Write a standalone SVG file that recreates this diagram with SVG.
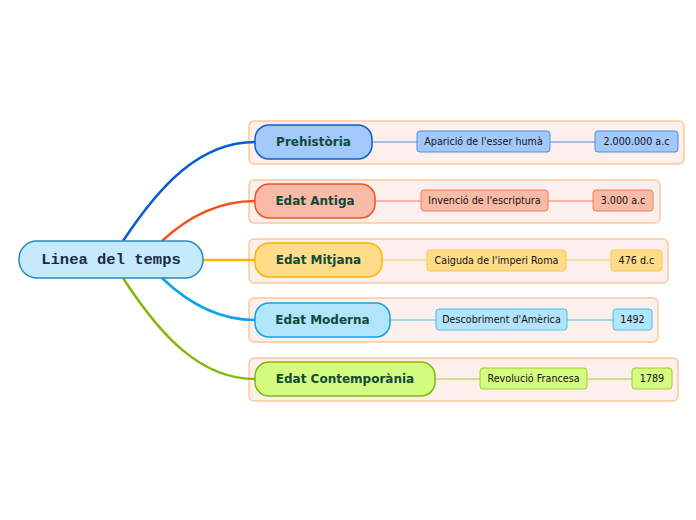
<svg xmlns="http://www.w3.org/2000/svg" width="696" height="520" viewBox="0 0 696 520">
<style>
.bg{fill:#fdf0ec;stroke:#fdc89a;stroke-width:1.5}
.br{font-family:"DejaVu Sans",Verdana,sans-serif;font-weight:bold;font-size:12px;fill:#0e4a3a;text-anchor:middle;dominant-baseline:central}
.lf{font-family:"DejaVu Sans",Verdana,sans-serif;font-size:9.6px;fill:#111;text-anchor:middle;dominant-baseline:central}
.rt{font-family:"Liberation Mono","Courier New",monospace;font-weight:bold;font-size:15.5px;fill:#1a2a4a;text-anchor:middle;dominant-baseline:central}
.c{fill:none;stroke-width:2.5}
.t{fill:none;stroke-width:1}
</style>
<rect width="696" height="520" fill="#fff"/>
<g id="backgrounds">
<rect class="bg" x="249" y="121" width="435" height="43" rx="5"/>
<rect class="bg" x="249" y="180" width="411" height="43" rx="5"/>
<rect class="bg" x="249" y="239" width="419" height="44" rx="5"/>
<rect class="bg" x="249" y="298" width="409" height="44" rx="5"/>
<rect class="bg" x="249" y="358" width="429" height="43" rx="5"/>
</g>
<g id="connectors">
<path class="c" stroke="#0a5fd0" d="M123,241 C160,185 200,142 255,142"/>
<path class="c" stroke="#f25220" d="M162,241 C190,215 220,201 255,201"/>
<path class="c" stroke="#ffb400" d="M203,260 L255,260"/>
<path class="c" stroke="#0aa4ea" d="M162,278 C190,305 220,320 255,320"/>
<path class="c" stroke="#83b80d" d="M123,278 C160,335 200,379 255,379"/>
<path class="t" stroke="#4a8de0" d="M372,142 H417 M550,142 H595"/>
<path class="t" stroke="#f57a55" d="M375,201 H421 M548,201 H593"/>
<path class="t" stroke="#ffc845" d="M382,260 H427 M566,260 H611"/>
<path class="t" stroke="#45bef0" d="M390,320 H436 M567,320 H613"/>
<path class="t" stroke="#9fcc3a" d="M435,379 H480 M587,379 H632"/>
</g>
<g id="root">
<rect x="19" y="241" width="184" height="37" rx="18" fill="#c5ebfb" stroke="#2d86c0" stroke-width="1.5"/>
<text class="rt" x="111" y="260">Linea del temps</text>
</g>
<g id="prehistoria">
<rect x="255" y="125" width="117" height="34" rx="14" fill="#a3c9fb" stroke="#0a5fd0" stroke-width="1.5"/>
<text class="br" x="313.5" y="142">Prehistòria</text>
</g>
<g id="antiga">
<rect x="255" y="184" width="120" height="34" rx="14" fill="#f9bba7" stroke="#f25220" stroke-width="1.5"/>
<text class="br" x="315" y="201">Edat Antiga</text>
</g>
<g id="mitjana">
<rect x="255" y="243" width="127" height="34" rx="14" fill="#ffdc8a" stroke="#ffb400" stroke-width="1.5"/>
<text class="br" x="318.5" y="260">Edat Mitjana</text>
</g>
<g id="moderna">
<rect x="255" y="303" width="135" height="34" rx="14" fill="#b2e4fa" stroke="#0aa4ea" stroke-width="1.5"/>
<text class="br" x="322.5" y="320">Edat Moderna</text>
</g>
<g id="contemporania">
<rect x="255" y="362" width="180" height="34" rx="14" fill="#d5fb7f" stroke="#83b80d" stroke-width="1.5"/>
<text class="br" x="345" y="379">Edat Contemporània</text>
</g>
<g id="leaf1a"><rect x="417" y="131" width="133" height="21" rx="3" fill="#a3c9fb" stroke="#4a8de0"/><text class="lf" x="483.5" y="141.5">Aparició de l'esser humà</text></g>
<g id="leaf1b"><rect x="595" y="131" width="83" height="21" rx="3" fill="#a3c9fb" stroke="#4a8de0"/><text class="lf" x="636.5" y="141.5">2.000.000 a.c</text></g>
<g id="leaf2a"><rect x="421" y="190" width="127" height="21" rx="3" fill="#f9bba7" stroke="#f57a55"/><text class="lf" x="484.5" y="200.5">Invenció de l'escriptura</text></g>
<g id="leaf2b"><rect x="593" y="190" width="60" height="21" rx="3" fill="#f9bba7" stroke="#f57a55"/><text class="lf" x="623" y="200.5">3.000 a.c</text></g>
<g id="leaf3a"><rect x="427" y="250" width="139" height="21" rx="3" fill="#ffdc8a" stroke="#ffc845"/><text class="lf" x="496.5" y="260.5">Caiguda de l'imperi Roma</text></g>
<g id="leaf3b"><rect x="611" y="250" width="51" height="21" rx="3" fill="#ffdc8a" stroke="#ffc845"/><text class="lf" x="636.5" y="260.5">476 d.c</text></g>
<g id="leaf4a"><rect x="436" y="309" width="131" height="21" rx="3" fill="#b2e4fa" stroke="#45bef0"/><text class="lf" x="501.5" y="319.5">Descobriment d'Amèrica</text></g>
<g id="leaf4b"><rect x="613" y="309" width="39" height="21" rx="3" fill="#b2e4fa" stroke="#45bef0"/><text class="lf" x="632.5" y="319.5">1492</text></g>
<g id="leaf5a"><rect x="480" y="368" width="107" height="21" rx="3" fill="#d5fb7f" stroke="#9fcc3a"/><text class="lf" x="533.5" y="378.5">Revolució Francesa</text></g>
<g id="leaf5b"><rect x="632" y="368" width="40" height="21" rx="3" fill="#d5fb7f" stroke="#9fcc3a"/><text class="lf" x="652" y="378.5">1789</text></g>
</svg>
